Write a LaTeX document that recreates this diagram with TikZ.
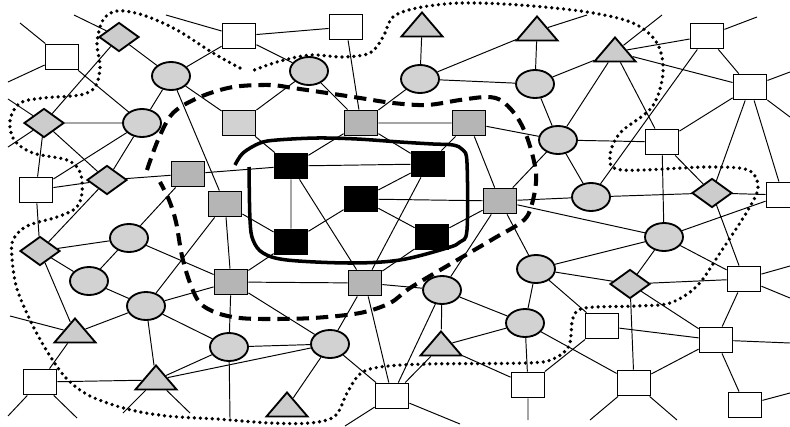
\documentclass[tikz,border=0pt]{standalone}
\usepackage{xcolor}
\usepackage{tikz}
\usetikzlibrary{positioning, shapes.geometric}

\begin{document}
\begin{tikzpicture}[
    x=0.02cm, y=-0.02cm,
    nd/.style={draw, line width=1.05pt, inner sep=0pt},
    wsq/.style={nd, rectangle, fill=white, minimum width=0.66cm, minimum height=0.5cm},
    gsq/.style={wsq, fill=gray!58},
    lsq/.style={wsq, fill=gray!35},
    bsq/.style={wsq, fill=black},
    circ/.style={nd, ellipse, fill=gray!35, minimum width=0.76cm, minimum height=0.56cm},
    dia/.style={nd, diamond, fill=gray!40, minimum width=0.8cm, minimum height=0.58cm},
    tri/.style={nd, isosceles triangle, isosceles triangle stretches, shape border rotate=90, fill=gray!40, minimum width=0.82cm, minimum height=0.48cm},
    link/.style={line width=0.55pt},
    core/.style={line width=2pt},
    zone/.style={line width=2.3pt, dash pattern=on 7pt off 4pt},
    halo/.style={line width=2.1pt, dash pattern=on 0pt off 3.4pt, line cap=round}
]
\useasboundingbox (0,0) rectangle (790,426);

% White squares
\node[wsq] (w1) at (62,57) {};
\node[wsq] (w2) at (239,36) {};
\node[wsq] (w3) at (346,27) {};
\node[wsq] (w4) at (707,36) {};
\node[wsq] (w5) at (750,87) {};
\node[wsq] (w6) at (662,142) {};
\node[wsq] (w7) at (36,190) {};
\node[wsq] (w8) at (783,195) {};
\node[wsq] (w9) at (744,279) {};
\node[wsq] (w10) at (602,326) {};
\node[wsq] (w11) at (716,340) {};
\node[wsq] (w12) at (40,382) {};
\node[wsq] (w13) at (392,396) {};
\node[wsq] (w14) at (528,385) {};
\node[wsq] (w15) at (634,383) {};
\node[wsq] (w16) at (745,405) {};

% Circles
\node[circ] (c1) at (171,76) {};
\node[circ] (c2) at (309,71) {};
\node[circ] (c3) at (420,79) {};
\node[circ] (c4) at (535,84) {};
\node[circ] (c5) at (142,123) {};
\node[circ] (c6) at (558,140) {};
\node[circ] (c7) at (591,197) {};
\node[circ] (c8) at (129,238) {};
\node[circ] (c9) at (89,281) {};
\node[circ] (c10) at (664,237) {};
\node[circ] (c11) at (536,269) {};
\node[circ] (c12) at (146,306) {};
\node[circ] (c13) at (442,290) {};
\node[circ] (c14) at (525,323) {};
\node[circ] (c15) at (229,347) {};
\node[circ] (c16) at (330,344) {};

% Grey squares
\node[lsq] (l1) at (239,123) {};
\node[gsq] (g1) at (361,123) {};
\node[gsq] (g2) at (469,123) {};
\node[gsq] (g3) at (188,174) {};
\node[gsq] (g4) at (225,204) {};
\node[gsq] (g5) at (500,201) {};
\node[gsq] (g6) at (231,282) {};
\node[gsq] (g7) at (365,283) {};

% Black squares
\node[bsq] (b1) at (291,166) {};
\node[bsq] (b2) at (428,164) {};
\node[bsq] (b3) at (361,199) {};
\node[bsq] (b4) at (291,242) {};
\node[bsq] (b5) at (432,237) {};

% Diamonds
\node[dia] (d1) at (119,37) {};
\node[dia] (d2) at (44,123) {};
\node[dia] (d3) at (107,180) {};
\node[dia] (d4) at (40,251) {};
\node[dia] (d5) at (712,193) {};
\node[dia] (d6) at (630,284) {};

% Triangles
\node[tri] (t1) at (422,27) {};
\node[tri] (t2) at (537,31) {};
\node[tri] (t3) at (615,52) {};
\node[tri] (t4) at (75,333) {};
\node[tri] (t5) at (156,380) {};
\node[tri] (t6) at (441,346) {};
\node[tri] (t7) at (287,407) {};

% Loose ends
\coordinate (e1) at (20,23);
\coordinate (e2) at (8,82);
\coordinate (e3) at (74,15);
\coordinate (e4) at (8,99);
\coordinate (e5) at (8,147);
\coordinate (e6) at (166,15);
\coordinate (e7) at (587,15);
\coordinate (e8) at (662,15);
\coordinate (e9) at (757,17);
\coordinate (e10) at (790,72);
\coordinate (e11) at (790,117);
\coordinate (e12) at (790,266);
\coordinate (e13) at (790,298);
\coordinate (e14) at (790,343);
\coordinate (e15) at (790,393);
\coordinate (e16) at (590,420);
\coordinate (e17) at (677,420);
\coordinate (e18) at (528,420);
\coordinate (e19) at (345,426);
\coordinate (e20) at (460,424);
\coordinate (e21) at (230,418);
\coordinate (e22) at (123,413);
\coordinate (e23) at (190,413);
\coordinate (e24) at (8,416);
\coordinate (e25) at (77,418);
\coordinate (e26) at (10,316);

% Links
\draw[link] (c1) -- (d1) (c1) -- (w2) (c1) -- (l1) (c1) -- (c5) (c1) -- (g4);
\draw[link] (c2) -- (w2) (c2) -- (l1) (c2) -- (g1);
\draw[link] (w2) -- (w3) (w2) -- (e6) (w3) -- (g1);
\draw[link] (c3) -- (t1) (c3) -- (c4) (c3) -- (g1) (c3) -- (t2);
\draw[link] (c4) -- (t2) (c4) -- (t3) (c4) -- (c6) (t2) -- (e7);
\draw[link] (t3) -- (e8) (t3) -- (w4) (t3) -- (w5) (t3) -- (c6) (t3) -- (w6);
\draw[link] (w4) -- (w5) (w4) -- (c7) (w4) -- (e9);
\draw[link] (w5) -- (w6) (w5) -- (d5) (w5) -- (w8) (w5) -- (e10) (w5) -- (e11);
\draw[link] (w6) -- (c6) (w6) -- (d5) (w6) -- (c10);
\draw[link] (c6) -- (c7) (c6) -- (g2) (c6) -- (g5) (c7) -- (g5) (c7) -- (d5);
\draw[link] (d5) -- (w8) (d5) -- (w9) (w8) -- (c10);
\draw[link] (c10) -- (g5) (c10) -- (c11) (c10) -- (d6) (c10) -- (w9);
\draw[link] (d6) -- (c11) (d6) -- (w9) (d6) -- (w11) (d6) -- (w15);
\draw[link] (w9) -- (w11) (w9) -- (e12) (w9) -- (e13);
\draw[link] (c11) -- (g5) (c11) -- (w10) (c11) -- (c14);
\draw[link] (w10) -- (w11) (w10) -- (w14);
\draw[link] (w11) -- (w15) (w11) -- (w16) (w11) -- (e14) (w16) -- (e15);
\draw[link] (w15) -- (c14) (w15) -- (e16) (w15) -- (e17);
\draw[link] (w14) -- (c14) (w14) -- (t6) (w14) -- (e18);
\draw[link] (c14) -- (c13) (c14) -- (t6);
\draw[link] (c13) -- (g5) (c13) -- (g7) (c13) -- (t6) (c13) -- (w13) (t6) -- (w13);
\draw[link] (w13) -- (g7) (w13) -- (c16) (w13) -- (e19) (w13) -- (e20);
\draw[link] (c16) -- (g6) (c16) -- (g7) (c16) -- (c15) (c16) -- (t5) (c16) -- (t7);
\draw[link] (c15) -- (g6) (c15) -- (c12) (c15) -- (t5) (c15) -- (e21);
\draw[link] (t5) -- (c12) (t5) -- (w12) (t5) -- (e22) (t5) -- (e23);
\draw[link] (w12) -- (t4) (w12) -- (e24) (w12) -- (e25);
\draw[link] (t4) -- (d4) (t4) -- (c12) (t4) -- (e26);
\draw[link] (c12) -- (c9) (c12) -- (g4) (c12) -- (g6);
\draw[link] (c9) -- (d4) (c9) -- (c8);
\draw[link] (c8) -- (d4) (c8) -- (g3) (c8) -- (g6);
\draw[link] (d4) -- (w7) (d4) -- (d3);
\draw[link] (w7) -- (d2) (w7) -- (c5) (w7) -- (d3);
\draw[link] (d2) -- (d1) (d2) -- (c5) (d2) -- (d3) (d2) -- (e4) (d2) -- (e5);
\draw[link] (d3) -- (c5) (d3) -- (g3);
\draw[link] (w1) -- (c5) (w1) -- (e1) (w1) -- (e2) (d1) -- (e3);
\draw[link] (g1) -- (g2) (g1) -- (b1) (g1) -- (b2);
\draw[link] (g2) -- (b2) (g2) -- (g5);
\draw[link] (g3) -- (b1) (l1) -- (b1);
\draw[link] (g4) -- (b4) (g4) -- (g6) (g6) -- (g7) (g6) -- (b4);
\draw[link] (b1) -- (b2) (b1) -- (b4) (b1) -- (g7);
\draw[link] (b2) -- (b3) (b2) -- (g7);
\draw[link] (b3) -- (b4) (b3) -- (b5) (b3) -- (g5);
\draw[link] (b5) -- (g5) (b5) -- (g7);

% Regions
\draw[core] plot[smooth, tension=0.55] coordinates {(249,167) (250,220) (253,240) (263,253) (287,260) (350,263) (400,260) (447,248) (460,242) (467,230) (467,163) (463,150) (453,145) (433,144) (400,142) (357,139) (317,138) (277,140) (260,143) (243,153) (235,165)};
\draw[zone] plot[smooth, tension=0.55] coordinates {(147,170) (158,140) (173,113) (200,97) (233,87) (270,85) (293,88) (327,93) (360,98) (393,103) (427,105) (460,100) (487,97) (502,101) (517,117) (528,140) (536,173) (533,200) (524,220) (493,239) (447,266) (410,288) (390,303) (360,313) (313,318) (270,319) (240,318) (217,313) (200,303) (190,283) (182,256) (176,222) (169,200) (160,182)};
\draw[halo] plot[smooth, tension=0.55] coordinates {(240,68) (213,53) (177,30) (143,15) (117,11) (103,20) (97,43) (100,67) (95,87) (80,95) (43,98) (20,103) (10,120) (14,140) (33,153) (67,160) (80,172) (82,193) (76,208) (57,217) (27,226) (13,240) (12,258) (17,289) (33,326) (50,356) (67,379) (90,396) (127,409) (167,416) (217,419) (270,423) (310,423) (335,416) (347,393) (360,374) (380,367) (427,364) (527,363) (553,359) (569,346) (573,318) (585,308) (637,306) (670,303) (697,286) (720,253) (748,210) (758,187) (748,170) (707,167) (622,170) (610,157) (620,133) (652,107) (663,73) (657,43) (633,23) (587,12) (520,5) (460,3) (417,8) (393,17) (383,37) (370,53) (343,57) (310,55) (277,62) (252,71)};
\end{tikzpicture}
\end{document}
